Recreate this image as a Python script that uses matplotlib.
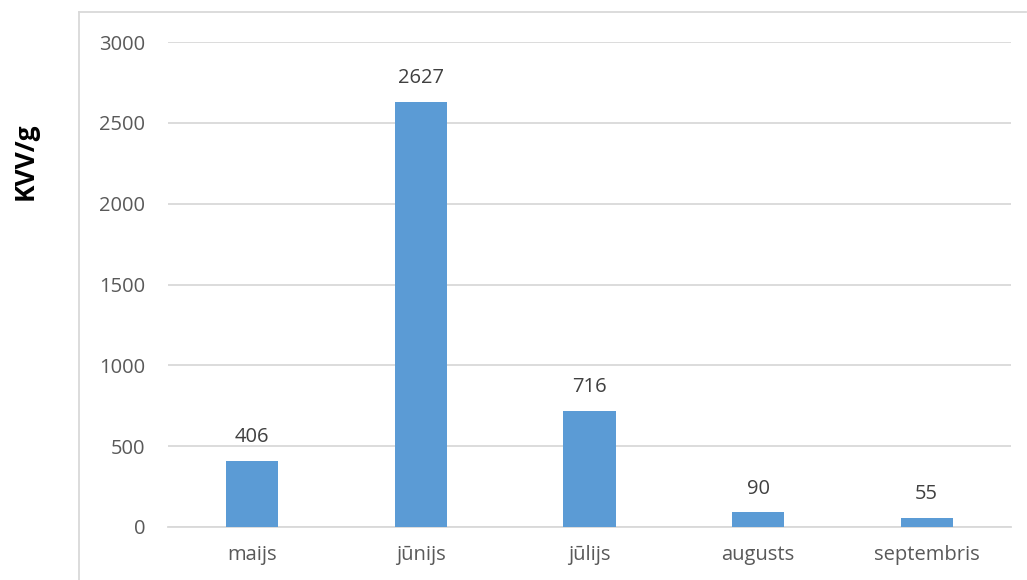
import matplotlib
matplotlib.use("Agg")
import matplotlib.pyplot as plt
from matplotlib.lines import Line2D

categories = ["maijs", "jūnijs", "jūlijs", "augusts", "septembris"]
values = [406, 2627, 716, 90, 55]
yticks = [0, 500, 1000, 1500, 2000, 2500, 3000]

W, H = 1027, 580
fig = plt.figure(figsize=(W / 100, H / 100), dpi=100)
plt.rcParams['font.family'] = ['Open Sans', 'DejaVu Sans']

left, right = 168 / W, 1011 / W
bottom, top = 1 - 527 / H, 1 - 42 / H
ax = fig.add_axes([left, bottom, right - left, top - bottom])

x = range(len(categories))
bars = ax.bar(x, values, width=0.31, color="#5B9BD5", zorder=3)
ax.set_xlim(-0.5, len(categories) - 0.5)
ax.set_ylim(0, 3000)
ax.set_yticks(yticks)
ax.set_yticklabels([str(t) for t in yticks])
ax.set_xticks(list(x))
ax.set_xticklabels(categories)

for b, v in zip(bars, values):
    ax.annotate(str(v), (b.get_x() + b.get_width() / 2, v), xytext=(0, 10),
                textcoords="offset points", ha="center", va="bottom",
                fontsize=14.5, color="#404040")

ax.grid(axis="y", color="#D9D9D9", linewidth=1.3, zorder=0)
for s in ["top", "right", "left"]:
    ax.spines[s].set_visible(False)
ax.spines["bottom"].set_color("#D9D9D9")
ax.spines["bottom"].set_linewidth(1.3)
ax.tick_params(axis="both", length=0, labelsize=14.5, colors="#595959")
ax.tick_params(axis="y", pad=16.5)
ax.tick_params(axis="x", pad=13)

fig.text(25 / W, 1 - 161 / H, "KVV/g", rotation=90, ha="center", va="center",
         fontsize=19, fontweight="bold", color="black")

fig.add_artist(Line2D([79 / W, 79 / W], [0, 1 - 12 / H], color="#D9D9D9", lw=1.3))
fig.add_artist(Line2D([79 / W, 1026 / W], [1 - 12 / H, 1 - 12 / H], color="#D9D9D9", lw=1.3))

fig.savefig("out.png", dpi=100)
